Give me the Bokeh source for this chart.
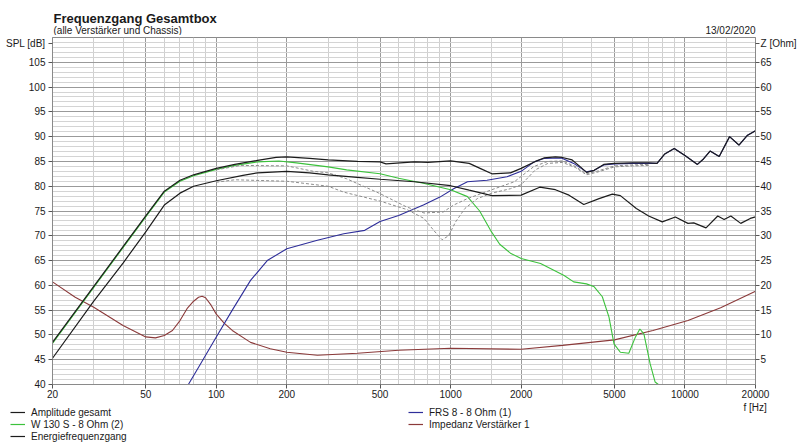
from bokeh.plotting import figure
from bokeh.models import Range1d, LinearAxis, FixedTicker, Legend, LegendItem
from bokeh.layouts import column
from bokeh.core.properties import value
from bokeh.embed import file_html
from bokeh.resources import INLINE

# ---------------- data ----------------
x_ticks = [20, 50, 100, 200, 500, 1000, 2000, 5000, 10000, 20000]
x_minor = [30, 40, 60, 70, 80, 90, 150, 300, 400, 600, 700, 800, 900, 1500,
           3000, 4000, 6000, 7000, 8000, 9000, 15000]
spl_grid = list(range(40, 115, 5))
spl_minor = [v for v in range(40, 110) if v % 5 != 0]
spl_ticks = list(range(40, 110, 5)) + [108.7]
spl_name = "SPL [dB]"
z_ticks = list(range(5, 70, 5)) + [68.7]
z_name = "Z [Ohm]"
f_name = "f [Hz]"

amp_f = [20, 30, 40, 50, 60, 70, 80, 100, 120, 150, 180, 200, 250, 300, 400, 500, 530, 700, 800,
         1000, 1200, 1350, 1500, 1800, 2000, 2300, 2500, 2800, 3000, 3300, 3600, 3800, 4100, 4500,
         5000, 6000, 7000, 7600, 8200, 9000, 10000, 11300, 12000, 12800, 14000, 15500, 17000,
         18500, 20000]
amp_db = [48.5, 59.8, 67.8, 74.0, 79.0, 81.2, 82.3, 83.6, 84.4, 85.2, 85.8, 85.9, 85.6, 85.3, 85.0,
          84.9, 84.5, 84.9, 84.8, 85.1, 84.6, 83.5, 82.5, 82.7, 83.6, 85.0, 85.7, 85.9, 85.8, 85.3,
          83.8, 82.8, 83.2, 84.4, 84.6, 84.7, 84.7, 84.6, 86.5, 87.6, 86.2, 84.4, 85.5, 87.1, 86.0,
          90.0, 88.3, 90.3, 91.2]

en_f = [20, 30, 40, 50, 60, 70, 80, 100, 130, 150, 200, 250, 300, 400, 500, 700, 1000, 1200, 1500,
        2000, 2400, 2800, 3200, 3700, 4300, 4900, 5300, 6200, 7000, 8000, 9100, 10300, 10900,
        12300, 13800, 14700, 15700, 17300, 19000, 20000]
en_db = [45.3, 56.8, 64.5, 70.8, 76.2, 78.6, 80.0, 81.1, 82.2, 82.7, 83.0, 82.7, 82.3, 81.8, 81.4,
         80.9, 80.1, 79.2, 78.1, 78.2, 79.8, 79.3, 78.2, 76.3, 77.5, 78.4, 78.1, 75.5, 74.0, 72.8,
         73.8, 72.5, 72.6, 71.6, 74.0, 73.3, 74.0, 72.5, 73.5, 73.8]

w_f = [20, 30, 40, 50, 60, 70, 80, 100, 120, 150, 185, 220, 300, 360, 500, 600, 765, 1000, 1180,
       1330, 1480, 1620, 1800, 2000, 2420, 3050, 3350, 3800, 4100, 4440, 4740, 4980, 5300, 5760,
       6150, 6420, 6680, 7100, 7460, 7700, 20000]
w_db = [48.3, 59.6, 67.6, 73.8, 78.8, 81.0, 82.1, 83.4, 84.2, 84.9, 85.1, 84.7, 83.9, 83.3, 82.5,
        81.6, 80.6, 79.3, 77.9, 75.0, 71.1, 68.3, 66.5, 65.4, 64.4, 62.0, 60.7, 60.3, 59.7, 57.7,
        53.6, 48.2, 46.5, 46.3, 49.6, 51.2, 50.2, 44.2, 40.5, 40.0, 40.0]

frs_f = [20, 76, 85, 100, 117, 140, 165, 200, 270, 350, 430, 500, 600, 765, 900, 1030, 1180, 1430,
         1740, 2000, 2270, 2500, 2970, 3350, 3800, 4100, 4500, 5000, 6000, 7000, 7600, 8200, 9000,
         10000, 11300, 12000, 12800, 14000, 15500, 17000, 18500, 20000]
frs_db = [40.0, 40.0, 43.9, 49.6, 55.0, 61.0, 65.0, 67.4, 69.1, 70.4, 71.1, 72.9, 74.1, 76.2, 77.8,
          79.5, 80.9, 81.2, 81.9, 83.0, 84.9, 85.6, 85.7, 84.6, 82.9, 83.2, 84.3, 84.5, 84.6, 84.6,
          84.6, 86.5, 87.6, 86.2, 84.4, 85.5, 87.1, 86.0, 90.0, 88.3, 90.3, 91.2]

imp_f = [20, 25, 30, 40, 50, 55, 60, 65, 70, 75, 80, 84, 87, 90, 95, 100, 108, 117, 140, 170, 200,
         270, 400, 600, 1000, 2000, 3000, 5000, 7300, 10300, 14200, 20000]
imp_ohm = [20.7, 17.6, 15.6, 11.9, 9.6, 9.4, 9.9, 10.9, 12.9, 15.3, 16.8, 17.6, 17.8, 17.5, 16.0,
           14.2, 12.4, 10.9, 8.5, 7.2, 6.5, 5.9, 6.3, 6.9, 7.3, 7.1, 7.9, 9.0, 10.9, 12.9, 15.5, 18.8]

d1_f = [100, 127, 200, 260, 300, 360, 500, 650, 770, 930, 1030, 1180, 1480, 1870, 2270, 2600,
        3000, 3400, 3800, 4200, 5000, 6000, 7000]
d1_db = [83.3, 84.2, 84.1, 83.0, 82.7, 81.5, 78.5, 75.8, 74.6, 74.8, 76.2, 77.5, 79.2, 80.9, 84.0,
         85.0, 85.1, 84.0, 82.5, 83.0, 84.1, 84.3, 84.4]

d2_f = [100, 120, 200, 300, 350, 500, 650, 770, 850, 920, 980, 1050, 1150, 1300, 1500, 1800,
        2000, 2300, 2600, 3000, 3400, 3800, 4200, 5000, 6000, 7000]
d2_db = [80.8, 81.3, 81.0, 80.0, 78.8, 77.0, 75.3, 73.5, 71.0, 69.2, 70.0, 72.8, 75.5, 77.5, 78.6,
         79.5, 80.3, 83.3, 84.6, 84.8, 83.8, 82.3, 82.8, 83.9, 84.1, 84.2]

series_names = ["Amplitude gesamt", "W 130 S - 8 Ohm (2)", "Energiefrequenzgang",
                "FRS 8 - 8 Ohm (1)", "Impedanz Verstärker 1"]
title_text = "Frequenzgang Gesamtbox"
subtitle_text = "(alle Verstärker und Chassis)"
date_text = "13/02/2020"

FONT = "Liberation Sans"
TXT = "#1a1a1a"
C_BLACK, C_GREEN, C_BLUE, C_RED, C_DASH = "#1c1c1c", "#3cc23c", "#2e2e9a", "#8b3a3a", "#8c8c8c"
W = 800
TOP_H = 35
MAIN_BOTTOM = 402


def strip(y0, y1):
    f = figure(width=W, height=y1 - y0, x_range=Range1d(0, W), y_range=Range1d(y1, y0),
               output_backend="svg", toolbar_location=None, title=None,
               min_border=0, x_axis_location=None, y_axis_location=None, frame_align=False)
    f.grid.visible = False
    f.outline_line_color = None
    f.background_fill_color = "white"
    f.border_fill_color = "white"
    return f


def txt(fig, x, y, s, size="10px", style="normal", align="left", base="alphabetic"):
    fig.text(x=[x], y=[y], text=[s], text_font=value(FONT), text_font_size=value(size),
             text_font_style=style, text_color=TXT, text_align=align, text_baseline=base)


# ---------------- header strip ----------------
top = strip(0, TOP_H)
txt(top, 53, 18, title_text, size="13px", style="bold")
txt(top, 53, 30, subtitle_text)
txt(top, 755, 30, date_text, align="right")

# ---------------- main chart ----------------
p = figure(width=W, height=MAIN_BOTTOM - TOP_H, x_axis_type="log", x_range=(20, 20000),
           y_range=(40, 110), output_backend="svg", toolbar_location=None, title=None,
           min_border_left=52, min_border_right=45, min_border_top=37 - TOP_H,
           min_border_bottom=MAIN_BOTTOM - 384, frame_align=False)
p.background_fill_color = "white"
p.border_fill_color = "white"
p.outline_line_color = "#8a8a8a"
p.extra_y_ranges = {"z": Range1d(0, 70)}

p.xaxis.ticker = FixedTicker(ticks=x_ticks, minor_ticks=x_minor)
p.xaxis.major_label_overrides = {t: str(t) for t in x_ticks}
p.yaxis.ticker = FixedTicker(ticks=spl_ticks, minor_ticks=[])
p.yaxis.major_label_overrides = {108.7: spl_name}
zax = LinearAxis(y_range_name="z", ticker=FixedTicker(ticks=z_ticks))
zax.major_label_overrides = {68.7: z_name}
p.add_layout(zax, "right")
p.ygrid.ticker = FixedTicker(ticks=spl_grid, minor_ticks=spl_minor)

for ax in [p.xaxis[0], p.yaxis[0], zax]:
    ax.axis_line_color = "#8a8a8a"
    ax.major_tick_line_color = "#555555"
    ax.major_tick_out = 4
    ax.major_tick_in = 0
    ax.minor_tick_out = 0
    ax.minor_tick_in = 0
    ax.minor_tick_line_color = None
    ax.major_label_text_font = FONT
    ax.major_label_text_font_size = "10px"
    ax.major_label_text_color = TXT
p.xaxis.major_label_standoff = 1
p.yaxis.major_label_standoff = 3
zax.major_label_standoff = 1

p.xgrid.grid_line_color = "#9a9a9a"
p.xgrid.minor_grid_line_color = "#cfcfcf"
p.ygrid.grid_line_color = "#9a9a9a"
p.ygrid.minor_grid_line_color = "#d4d4d4"

p.line(imp_f, imp_ohm, y_range_name="z", line_color=C_RED, line_width=1.1)
p.line(frs_f, frs_db, line_color=C_BLUE, line_width=1.1)
p.line(w_f, w_db, line_color=C_GREEN, line_width=1.1)
p.line(d1_f, d1_db, line_color=C_DASH, line_width=1, line_dash="3 2")
p.line(d2_f, d2_db, line_color=C_DASH, line_width=1, line_dash="3 2")
p.line(en_f, en_db, line_color=C_BLACK, line_width=1.2)
p.line(amp_f, amp_db, line_color=C_BLACK, line_width=1.2)

# ---------------- legend strip ----------------
bot = strip(MAIN_BOTTOM, 445)
txt(bot, 743, 407, f_name, base="middle")
leg_colors = [C_BLACK, C_GREEN, C_BLACK, C_BLUE, C_RED]
leg_r = [bot.line([-60, -50], [420, 420], line_color=c, line_width=1.2) for c in leg_colors]


def mk_legend(items, loc):
    lg = Legend(items=items, location=loc, orientation="vertical")
    lg.margin = 0
    lg.padding = 0
    lg.spacing = 0
    lg.border_line_color = None
    lg.background_fill_alpha = 0
    lg.label_height = 12
    lg.glyph_height = 12
    lg.glyph_width = 15
    lg.label_standoff = 6
    lg.label_text_font = FONT
    lg.label_text_font_size = "10px"
    lg.label_text_color = TXT
    return lg


lg1 = mk_legend([LegendItem(label=series_names[i], renderers=[leg_r[i]]) for i in range(3)], (10, 3))
lg2 = mk_legend([LegendItem(label=series_names[i], renderers=[leg_r[i]]) for i in range(3, 5)], (408, 15))
bot.add_layout(lg1)
bot.add_layout(lg2)

layout = column(top, p, bot, spacing=0)
open("out.html", "w").write(file_html(layout, INLINE))
